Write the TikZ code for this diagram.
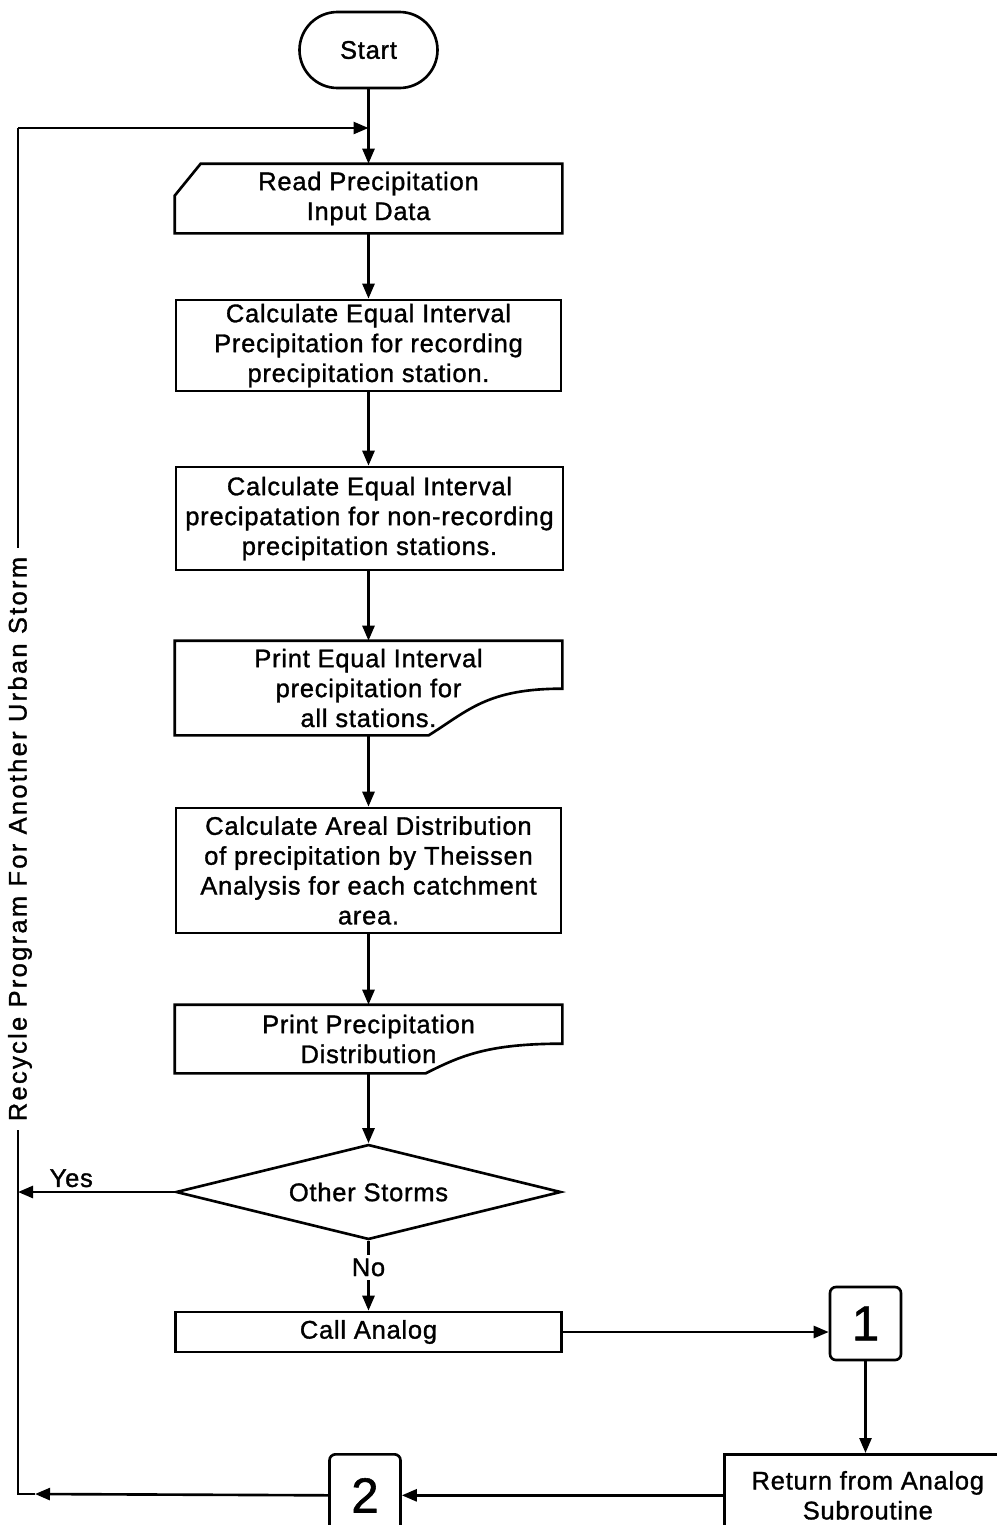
\documentclass[tikz,border=0pt]{standalone}
\usepackage{fontspec}
\setmainfont{Liberation Sans}
\newfontfamily\flowfont{Liberation Sans}[LetterSpace=3.0, FakeBold=1.2]
\newfontfamily\sidefont{Liberation Sans}[LetterSpace=9.0, FakeBold=1.2]
\usetikzlibrary{shapes.geometric,arrows.meta}

\tikzset{
  box/.style={draw, minimum width=7.7cm, align=center, inner sep=2pt,
    font=\flowfont\fontsize{14.5}{17}\selectfont},
  term/.style={draw, rounded corners=0.76cm, minimum width=2.76cm,
    minimum height=1.52cm, font=\flowfont\fontsize{14.5}{17}\selectfont},
  decision/.style={draw, diamond, aspect=4, minimum width=7.7cm,
    minimum height=1.9cm, inner sep=0pt, font=\flowfont\fontsize{14.5}{17}\selectfont},
  conn/.style={draw, rounded corners=0.12cm, minimum width=1.42cm,
    minimum height=1.46cm, font=\flowfont\fontsize{28}{28}\selectfont},
  lbl/.style={font=\flowfont\fontsize{14.5}{17}\selectfont, inner sep=2pt}
}

\begin{document}
\begin{tikzpicture}[>={Triangle[length=0.3cm,width=0.24cm]}, line width=1.5pt]
	\useasboundingbox (0,0) rectangle (19.94,-30.5);
	\clip (0,0) rectangle (19.94,-30.5);

	% main column
	\node[term] (start) at (7.37,-1.0) {Start};
	\node[box, draw=none, minimum height=1.34cm] (read) at (7.37,-3.97) {Read Precipitation\\Input Data};
	\node[box, minimum height=1.82cm] (calc1) at (7.37,-6.91) {Calculate Equal Interval\\Precipitation for recording\\precipitation station.};
	\node[box, minimum width=7.74cm, minimum height=2.06cm] (calc2) at (7.39,-10.37) {Calculate Equal Interval\\precipatation for non-recording\\precipitation stations.};
	\node[box, draw=none, minimum height=1.84cm] (print1) at (7.37,-13.76) {Print Equal Interval\\precipitation for\\all stations.};
	\node[box, minimum height=2.5cm] (calc3) at (7.37,-17.41) {Calculate Areal Distribution\\of precipitation by Theissen\\Analysis for each catchment\\area.};
	\node[box, draw=none, minimum height=1.32cm] (print2) at (7.37,-20.78) {Print Precipitation\\Distribution};
	\node[decision] (storms) at (7.37,-23.84) {Other Storms};
	\node[box, minimum width=7.72cm, minimum height=0.8cm] (call) at (7.37,-26.64) {Call Analog};

	% analog side
	\node[conn] (one) at (17.31,-26.47) {1};
	\node[box, minimum width=5.74cm, minimum height=1.64cm, anchor=north west] (ret) at (14.46,-29.06) {Return from Analog\\Subroutine};
	\node[conn, minimum height=1.64cm, anchor=north] (two) at (7.3,-29.06) {2};

	% odd frames
	\draw (read.south west) -- ([yshift=-0.64cm]read.north west) -- ([xshift=0.52cm]read.north west)
		-- (read.north east) -- (read.south east) -- cycle;
	\draw (print1.south west) -- (print1.north west) -- (print1.north east) -- ([yshift=-0.96cm]print1.north east)
		.. controls +(-1.5cm,0cm) and +(0.8cm,0.5cm) .. ([xshift=5.08cm]print1.south west) -- cycle;
	\draw (print2.south west) -- (print2.north west) -- (print2.north east) -- ([yshift=-0.78cm]print2.north east)
		.. controls +(-1.5cm,0cm) and +(0.7cm,0.35cm) .. ([xshift=5.02cm]print2.south west) -- cycle;

	\coordinate (join) at (7.37,-2.56);
	\coordinate (tl) at (0.36,-2.56);
	\coordinate (bl) at (0.36,-29.88);
	\coordinate (tip) at (0.7,-29.88);
	\coordinate (yes) at (0.36,-23.84);

	% connectors
	\draw (start) -- (join);
	\draw[->] (join) -- (read);
	\draw[->] (read) -- (calc1);
	\draw[->] (calc1) -- (calc2.north -| calc1);
	\draw[->] (calc2.south -| calc1) -- (print1);
	\draw[->] (print1) -- (calc3);
	\draw[->] (calc3) -- (print2);
	\draw[->] (print2) -- (storms);
	\draw[->] (storms) -- node[pos=0.38, fill=white, lbl] (no) {No} (call);
	\draw[->] (storms.west) -- node[pos=0.66, above, lbl] (yeslbl) {Yes} (yes);
	\draw[->] (call.east) -- (call.east -| one.west);
	\draw[->] (one.south) -- (one.south |- ret.north);
	\draw[->] (ret.west |- two) -- (two.east);
	\draw[->] (two.west) -- (tip);
	\draw (tip) -- (bl) -- (tl);
	\draw[->] (tl) -- (join);

	% loop label
	\node[rotate=90, fill=white, inner xsep=5pt, font=\sidefont\fontsize{14.5}{17}\selectfont] (recycle) at (0.4,-16.78) {Recycle Program For Another Urban Storm};
\end{tikzpicture}
\end{document}
